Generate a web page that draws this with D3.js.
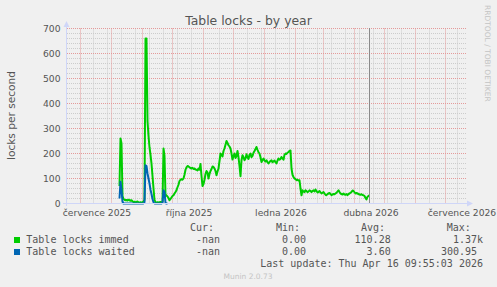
<!DOCTYPE html>
<html><head><meta charset="utf-8">
<script src="https://cdn.jsdelivr.net/npm/d3@7"></script>
<style>
html,body{margin:0;padding:0;background:#f0f0f0;}
svg{display:block;}
</style></head><body>
<svg id="chart" width="497" height="287"></svg>
<script>
// ---------------- data ----------------
const title = "Table locks - by year";
const yAxisLabel = "locks per second";
const yTicks = [0, 100, 200, 300, 400, 500, 600, 700];
const timeRange = ["2025-06-17T12:00:00Z", "2026-07-22T12:00:00Z"];
const xTickDates = ["2025-07-17", "2025-10-17", "2026-01-17", "2026-04-17", "2026-07-17"];
const xTickLabels = ["července 2025", "října 2025", "ledna 2026", "dubna 2026", "července 2026"];
const minorGridFirst = "2025-06-30";
const nowDate = "2026-04-16T09:55:03Z";

const seriesNames = ["Table locks immed", "Table locks waited"];
const seriesColors = ["#00cc00", "#0066b3"];

// daily samples, first sample day given below
const immedFirstDay = "2025-08-09";
const immedValues = [
  // Aug 9-31
  70, 260, 240, 30, 18, 15, 13, 14, 12, 15, 13, 11, 13, 9, 6, 7, 5, 6, 8, 5, 4, 5, 4,
  // Sep
  5, 8, 15, 660, 660, 330, 270, 225, 195, 160, 110, 60, 15, 5, 4, 5, 4, 5, 6, 5, 8, 220, 190, 30, 33, 28, 22, 13, 18, 24,
  // Oct
  30, 33, 40, 46, 53, 65, 75, 90, 95, 97, 95, 100, 115, 135, 145, 150, 148, 145, 142, 140, 143, 138, 140, 136, 135, 132, 140, 135, 158, 110, 70,
  // Nov
  78, 95, 118, 130, 125, 100, 118, 130, 138, 148, 146, 140, 130, 113, 128, 140, 170, 200, 195, 188, 210, 220, 235, 250, 242, 233, 228, 220, 200, 176,
  // Dec
  190, 200, 182, 190, 210, 185, 150, 109, 173, 193, 185, 173, 180, 197, 185, 178, 195, 200, 185, 190, 203, 210, 218, 226, 215, 205, 200, 185, 166, 175, 180,
  // Jan
  172, 168, 173, 165, 160, 166, 170, 173, 165, 168, 172, 165, 160, 172, 180, 175, 178, 186, 180, 175, 195, 200, 198, 203, 206, 210, 212, 140, 115, 106, 100,
  // Feb
  98, 93, 95, 92, 93, 60, 33, 53, 48, 45, 53, 50, 45, 48, 53, 50, 46, 50, 53, 48, 56, 50, 44, 46, 50, 45, 40, 43,
  // Mar
  46, 40, 35, 33, 38, 40, 42, 38, 33, 36, 38, 37, 40, 43, 48, 53, 46, 40, 38, 36, 40, 36, 35, 38, 33, 38, 40, 43, 46, 52, 50,
  // Apr 1-16
  45, 40, 42, 40, 38, 36, 35, 37, 34, 33, 30, 22, 16, 27, 30, 33
];
const waitedFirstDay = "2025-08-09";
const waitedValues = [
  // Aug 9-31
  20, 87, 55, 8, 0, 0, 0, 0, 0, 0, 0, 0, 0, 0, 0, 0, 0, 0, 0, 0, 0, 0, 0,
  // Sep 1-26
  0, 0, 5, 153, 150, 120, 100, 80, 55, 38, 18, 5, 0, 0, 0, 0, 0, 0, 0, 0, 3, 53, 45, 2, 0, 0
];

const legendHeaders = ["Cur:", "Min:", "Avg:", "Max:"];
const immedStats = ["-nan", "0.00", "110.28", "1.37k"];
const waitedStats = ["-nan", "0.00", "3.60", "300.95"];
const lastUpdate = "Last update: Thu Apr 16 09:55:03 2026";
const version = "Munin 2.0.73";
const watermark = "RRDTOOL / TOBI OETIKER";

// ---------------- drawing ----------------
const sans = "'DejaVu Sans', sans-serif";
const mono = "'DejaVu Sans Mono', monospace";
const textCol = "#555555";
const svg = d3.select("#chart");

const x = d3.scaleUtc().domain(timeRange.map(d => new Date(d))).range([67, 467]);
const y = d3.scaleLinear().domain([0, 700]).range([203.5, 28.5]);
const px = v => Math.round(x(v) - 0.5) + 0.5;

const grid = svg.append("g");
// minor horizontal
grid.selectAll(".hm").data(d3.range(20, 701, 20).filter(v => v % 100 !== 0)).join("line")
  .attr("x1", 67).attr("x2", 467).attr("y1", d => y(d)).attr("y2", d => y(d))
  .attr("stroke", "#cccccc").attr("stroke-dasharray", "1,1");
// minor vertical (every two weeks)
const months = d3.utcMonth.range(x.domain()[0], x.domain()[1]);
const minorDays = d3.utcMonday.range(new Date(minorGridFirst), x.domain()[1], 2)
  .filter(d => months.every(m => Math.abs(x(m) - x(d)) > 2));
grid.selectAll(".vm").data(minorDays).join("line")
  .attr("x1", px).attr("x2", px).attr("y1", 28.5).attr("y2", 203.5)
  .attr("stroke", "#cccccc").attr("stroke-dasharray", "1,1");
// major horizontal
grid.selectAll(".hM").data(yTicks.filter(v => v > 0)).join("line")
  .attr("x1", 67).attr("x2", 467).attr("y1", d => y(d)).attr("y2", d => y(d))
  .attr("stroke", "#e49a9a").attr("stroke-dasharray", "1,1");
// major vertical (months)
grid.selectAll(".vM").data(months).join("line")
  .attr("x1", px).attr("x2", px).attr("y1", 28.5).attr("y2", 203.5)
  .attr("stroke", "#e49a9a").attr("stroke-dasharray", "1,1");

// axes (labels)
const yAxis = svg.append("g").attr("transform", "translate(66.5,0)")
  .call(d3.axisLeft(y).tickValues(yTicks).tickSize(0).tickPadding(6));
yAxis.select(".domain").remove();
yAxis.selectAll("text").attr("font-family", sans).attr("font-size", "9.2px").attr("fill", textCol);

const xAxis = svg.append("g").attr("transform", "translate(0,203.5)")
  .call(d3.axisBottom(x).tickValues(xTickDates.map(d => new Date(d + "T00:00:00Z")))
    .tickFormat((d, i) => xTickLabels[i]).tickSize(0).tickPadding(6));
xAxis.select(".domain").remove();
xAxis.selectAll("text").attr("font-family", sans).attr("font-size", "9.2px").attr("fill", textCol);

// series
function series(firstDay, values) {
  const t0 = new Date(firstDay + "T00:00:00Z");
  return values.map((v, i) => ({ t: d3.utcDay.offset(t0, i), v }));
}
const line = d3.line().x(d => x(d.t)).y(d => y(d.v));
[[immedFirstDay, immedValues], [waitedFirstDay, waitedValues]].forEach(([f, vals], i) => {
  svg.append("path").datum(series(f, vals))
    .attr("d", line).attr("fill", "none")
    .attr("stroke", seriesColors[i]).attr("stroke-width", 2)
    .attr("stroke-linejoin", "round");
});

// now rule
svg.append("line")
  .attr("x1", px(new Date(nowDate))).attr("x2", px(new Date(nowDate)))
  .attr("y1", 28).attr("y2", 203.5)
  .attr("stroke", "#8a8a8a").attr("stroke-width", 1);

// axis lines + arrows
const axisCol = "#cfd6f8";
svg.append("line").attr("x1", 63).attr("x2", 470).attr("y1", 203.5).attr("y2", 203.5).attr("stroke", axisCol);
svg.append("line").attr("x1", 66.5).attr("x2", 66.5).attr("y1", 206).attr("y2", 24).attr("stroke", axisCol);
svg.append("path").attr("d", "M467,200.5L473,203.5L467,206.5Z").attr("fill", axisCol);
svg.append("path").attr("d", "M63.5,27L66.5,21L69.5,27Z").attr("fill", axisCol);

// title
svg.append("text").attr("x", 248.5).attr("y", 24.5).attr("text-anchor", "middle")
  .attr("font-family", sans).attr("font-size", "12.4px").attr("fill", textCol).text(title);

// y label
svg.append("text").attr("transform", "translate(15,115.5) rotate(-90)").attr("text-anchor", "middle")
  .attr("font-family", sans).attr("font-size", "10.6px").attr("fill", textCol).text(yAxisLabel);

// watermark
svg.append("text").attr("transform", "translate(485,5) rotate(90)")
  .attr("font-family", sans).attr("font-size", "7.5px").attr("fill", "#c4c4c4").text(watermark);

// legend
const lg = svg.append("g").attr("font-family", mono).attr("font-size", "10px").attr("fill", textCol)
  .style("white-space", "pre");
const headerX = [190, 276, 361, 446.7];
legendHeaders.forEach((h, i) => lg.append("text").attr("x", headerX[i]).attr("y", 231).text(h));
const statEnd = [220, 306, 390.7, 477];
[immedStats, waitedStats].forEach((stats, r) => {
  const yy = 243 + r * 12;
  svg.append("rect").attr("x", 14).attr("y", yy - 6).attr("width", 6).attr("height", 6).attr("fill", seriesColors[r]);
  lg.append("text").attr("x", 26.3).attr("y", yy).text(seriesNames[r]);
  stats.forEach((s, i) => {
    const str = s.endsWith("k") ? s : s;
    lg.append("text").attr("x", statEnd[i] - (s.endsWith("k") ? -6.02 : 0)).attr("y", yy)
      .attr("text-anchor", "end").text(str);
  });
});
lg.append("text").attr("x", 483).attr("y", 267).attr("text-anchor", "end").text(lastUpdate);

svg.append("text").attr("x", 248).attr("y", 279).attr("text-anchor", "middle")
  .attr("font-family", sans).attr("font-size", "7.5px").attr("fill", "#c4c4c4").text(version);
</script>
</body></html>
